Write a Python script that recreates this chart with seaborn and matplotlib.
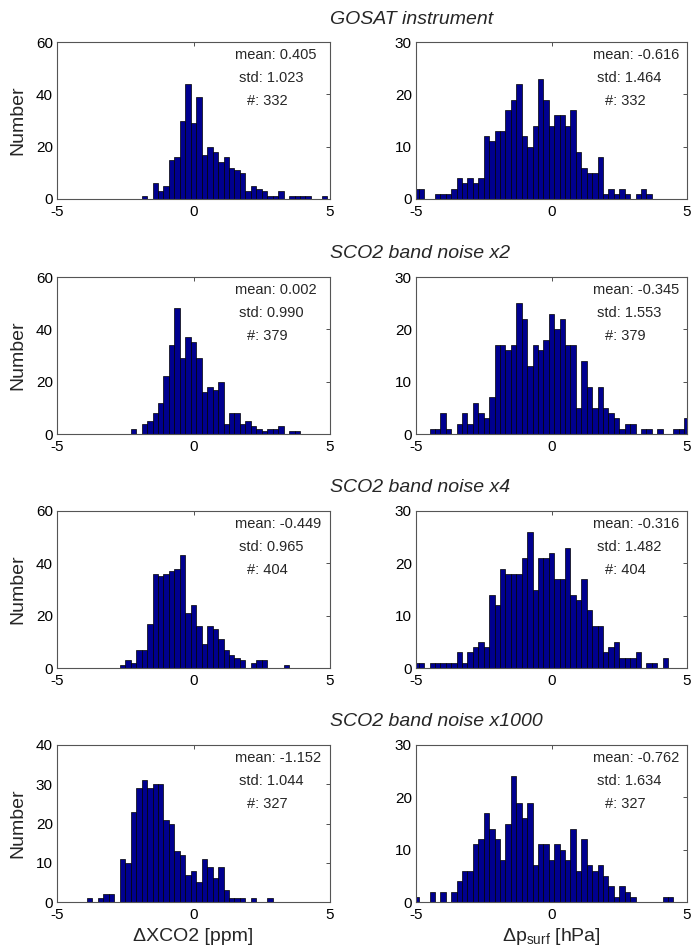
import numpy as np
import pandas as pd
import matplotlib
matplotlib.use("Agg")
import matplotlib.pyplot as plt
import seaborn as sns

# histogram bins: centres every 0.2 from -5 to 5
bin_centers = np.round(np.linspace(-5, 5, 51), 1)

# counts per bin (left: dXCO2, right: dp_surf)
xco2_gosat = [0, 0, 0, 0, 0, 0, 0, 0, 0, 0, 0, 0, 0, 0, 0, 0, 1, 0, 6, 3, 5, 15, 16, 30, 44, 29,
              39, 17, 20, 18, 14, 16, 12, 11, 10, 3, 5, 4, 3, 1, 1, 3, 0, 1, 1, 1, 1, 0, 0, 1, 0]
psurf_gosat = [2, 2, 0, 0, 1, 1, 1, 2, 4, 3, 4, 3, 4, 12, 11, 13, 13, 17, 19, 22, 12, 10, 14, 23, 19, 14,
               16, 16, 14, 17, 9, 6, 5, 5, 8, 1, 2, 1, 2, 1, 0, 1, 2, 1, 0, 0, 0, 0, 0, 0, 0]
xco2_x2 = [0, 0, 0, 0, 0, 0, 0, 0, 0, 0, 0, 0, 0, 0, 2, 0, 4, 5, 8, 12, 22, 34, 48, 29, 37, 35,
           29, 16, 18, 17, 20, 4, 8, 8, 4, 5, 3, 2, 1, 2, 2, 3, 0, 1, 1, 0, 0, 0, 0, 0, 0]
psurf_x2 = [0, 0, 0, 1, 1, 4, 1, 0, 2, 4, 2, 6, 4, 3, 7, 17, 17, 16, 17, 25, 22, 13, 17, 16, 18, 23,
            20, 22, 17, 17, 5, 14, 9, 5, 9, 5, 4, 3, 1, 2, 2, 0, 1, 1, 0, 1, 0, 0, 1, 1, 3]
xco2_x4 = [0, 0, 0, 0, 0, 0, 0, 0, 0, 0, 0, 0, 1, 3, 2, 7, 7, 17, 36, 35, 36, 37, 38, 43, 21, 24,
           16, 9, 16, 15, 11, 7, 5, 4, 3, 0, 2, 3, 3, 0, 0, 0, 1, 0, 0, 0, 0, 0, 0, 0, 0]
psurf_x4 = [1, 1, 0, 1, 1, 1, 1, 1, 3, 1, 3, 4, 5, 4, 14, 12, 19, 18, 18, 18, 21, 26, 15, 21, 21, 22,
            17, 17, 23, 14, 13, 17, 11, 8, 8, 3, 4, 5, 2, 2, 2, 3, 0, 1, 1, 0, 2, 0, 0, 0, 0]
xco2_x1000 = [0, 0, 0, 0, 0, 0, 1, 0, 1, 2, 2, 0, 11, 10, 23, 29, 31, 29, 30, 30, 21, 20, 13, 12, 7, 8,
              5, 11, 9, 6, 9, 3, 1, 1, 1, 0, 1, 0, 0, 1, 0, 0, 0, 0, 0, 0, 0, 0, 0, 0, 0]
psurf_x1000 = [1, 0, 0, 2, 0, 2, 0, 2, 4, 6, 6, 11, 12, 17, 14, 12, 8, 15, 24, 19, 16, 19, 7, 11, 11, 8,
               11, 10, 8, 14, 6, 12, 7, 6, 7, 5, 3, 1, 3, 2, 1, 0, 0, 0, 0, 0, 1, 1, 0, 0, 0]

row_titles = ["GOSAT instrument", "SCO2 band noise x2", "SCO2 band noise x4", "SCO2 band noise x1000"]
left_counts = [xco2_gosat, xco2_x2, xco2_x4, xco2_x1000]
right_counts = [psurf_gosat, psurf_x2, psurf_x4, psurf_x1000]
left_stats = [("0.405", "1.023", "332"), ("0.002", "0.990", "379"),
              ("-0.449", "0.965", "404"), ("-1.152", "1.044", "327")]
right_stats = [("-0.616", "1.464", "332"), ("-0.345", "1.553", "379"),
               ("-0.316", "1.482", "404"), ("-0.762", "1.634", "327")]
left_ymax = [60, 60, 60, 40]
left_yticks = [[0, 20, 40, 60], [0, 20, 40, 60], [0, 20, 40, 60], [0, 10, 20, 30, 40]]

sns.set_style("white")
plt.rcParams["font.family"] = ["Liberation Sans", "DejaVu Sans"]
plt.rcParams["mathtext.fontset"] = "custom"
plt.rcParams["mathtext.rm"] = "Liberation Sans"
plt.rcParams["mathtext.it"] = "Liberation Sans:italic"

fig = plt.figure(figsize=(6.92, 9.5), dpi=100)

W, H = 692.0, 950.0
row_tops = [42, 277, 511, 745]
ax_h = 157
bar_color = "#00008F"


def style_axis(ax, ymax, yticks):
    ax.set_xlim(-5, 5)
    ax.set_ylim(0, ymax)
    ax.set_xticks([-5, 0, 5])
    ax.set_xticklabels(["-5", "0", "5"])
    ax.set_yticks(yticks)
    ax.tick_params(direction="in", top=True, right=True, length=3, width=0.6,
                   labelsize=11, pad=3, colors="#333333", labelcolor="black")
    ax.tick_params(axis="x", pad=4.5)
    for s in ax.spines.values():
        s.set_color("#555555")
        s.set_linewidth(0.8)
    ax.set_xlabel("")
    ax.set_ylabel("")


def add_stats(ax, stats):
    m, s, n = stats
    kw = dict(transform=ax.transAxes, ha="left", va="center", fontsize=10.5)
    ax.text(0.652, 0.917, f"mean: {m}", **kw)
    ax.text(0.667, 0.773, f"std: {s}", **kw)
    ax.text(0.696, 0.624, f"#: {n}", **kw)


def draw_hist(ax, counts):
    df = pd.DataFrame({"value": bin_centers, "count": counts})
    sns.histplot(data=df, x="value", weights="count", binwidth=0.2, binrange=(-5.1, 5.1),
                 ax=ax, color=bar_color, edgecolor="black", linewidth=0.5, alpha=1)


for r in range(4):
    bottom = (H - row_tops[r] - ax_h) / H
    axl = fig.add_axes([57 / W, bottom, 273 / W, ax_h / H])
    axr = fig.add_axes([416 / W, bottom, 271 / W, ax_h / H])

    draw_hist(axl, left_counts[r])
    draw_hist(axr, right_counts[r])

    style_axis(axl, left_ymax[r], left_yticks[r])
    style_axis(axr, 30, [0, 10, 20, 30])
    add_stats(axl, left_stats[r])
    add_stats(axr, right_stats[r])

    axl.set_ylabel("Number", fontsize=14)
    axl.yaxis.set_label_coords(-0.112, 0.5)

    fig.text(330 / W, 1 - (row_tops[r] - 23) / H, row_titles[r], ha="left", va="center",
             fontsize=14, style="italic")

    if r == 3:
        axl.set_xlabel("ΔXCO2 [ppm]", fontsize=14)
        axl.xaxis.set_label_coords(0.5, -0.165)
        axr.set_xlabel(r"Δp$_{\mathrm{surf}}$ [hPa]", fontsize=14)
        axr.xaxis.set_label_coords(0.5, -0.155)

fig.savefig("out.png", dpi=100)
